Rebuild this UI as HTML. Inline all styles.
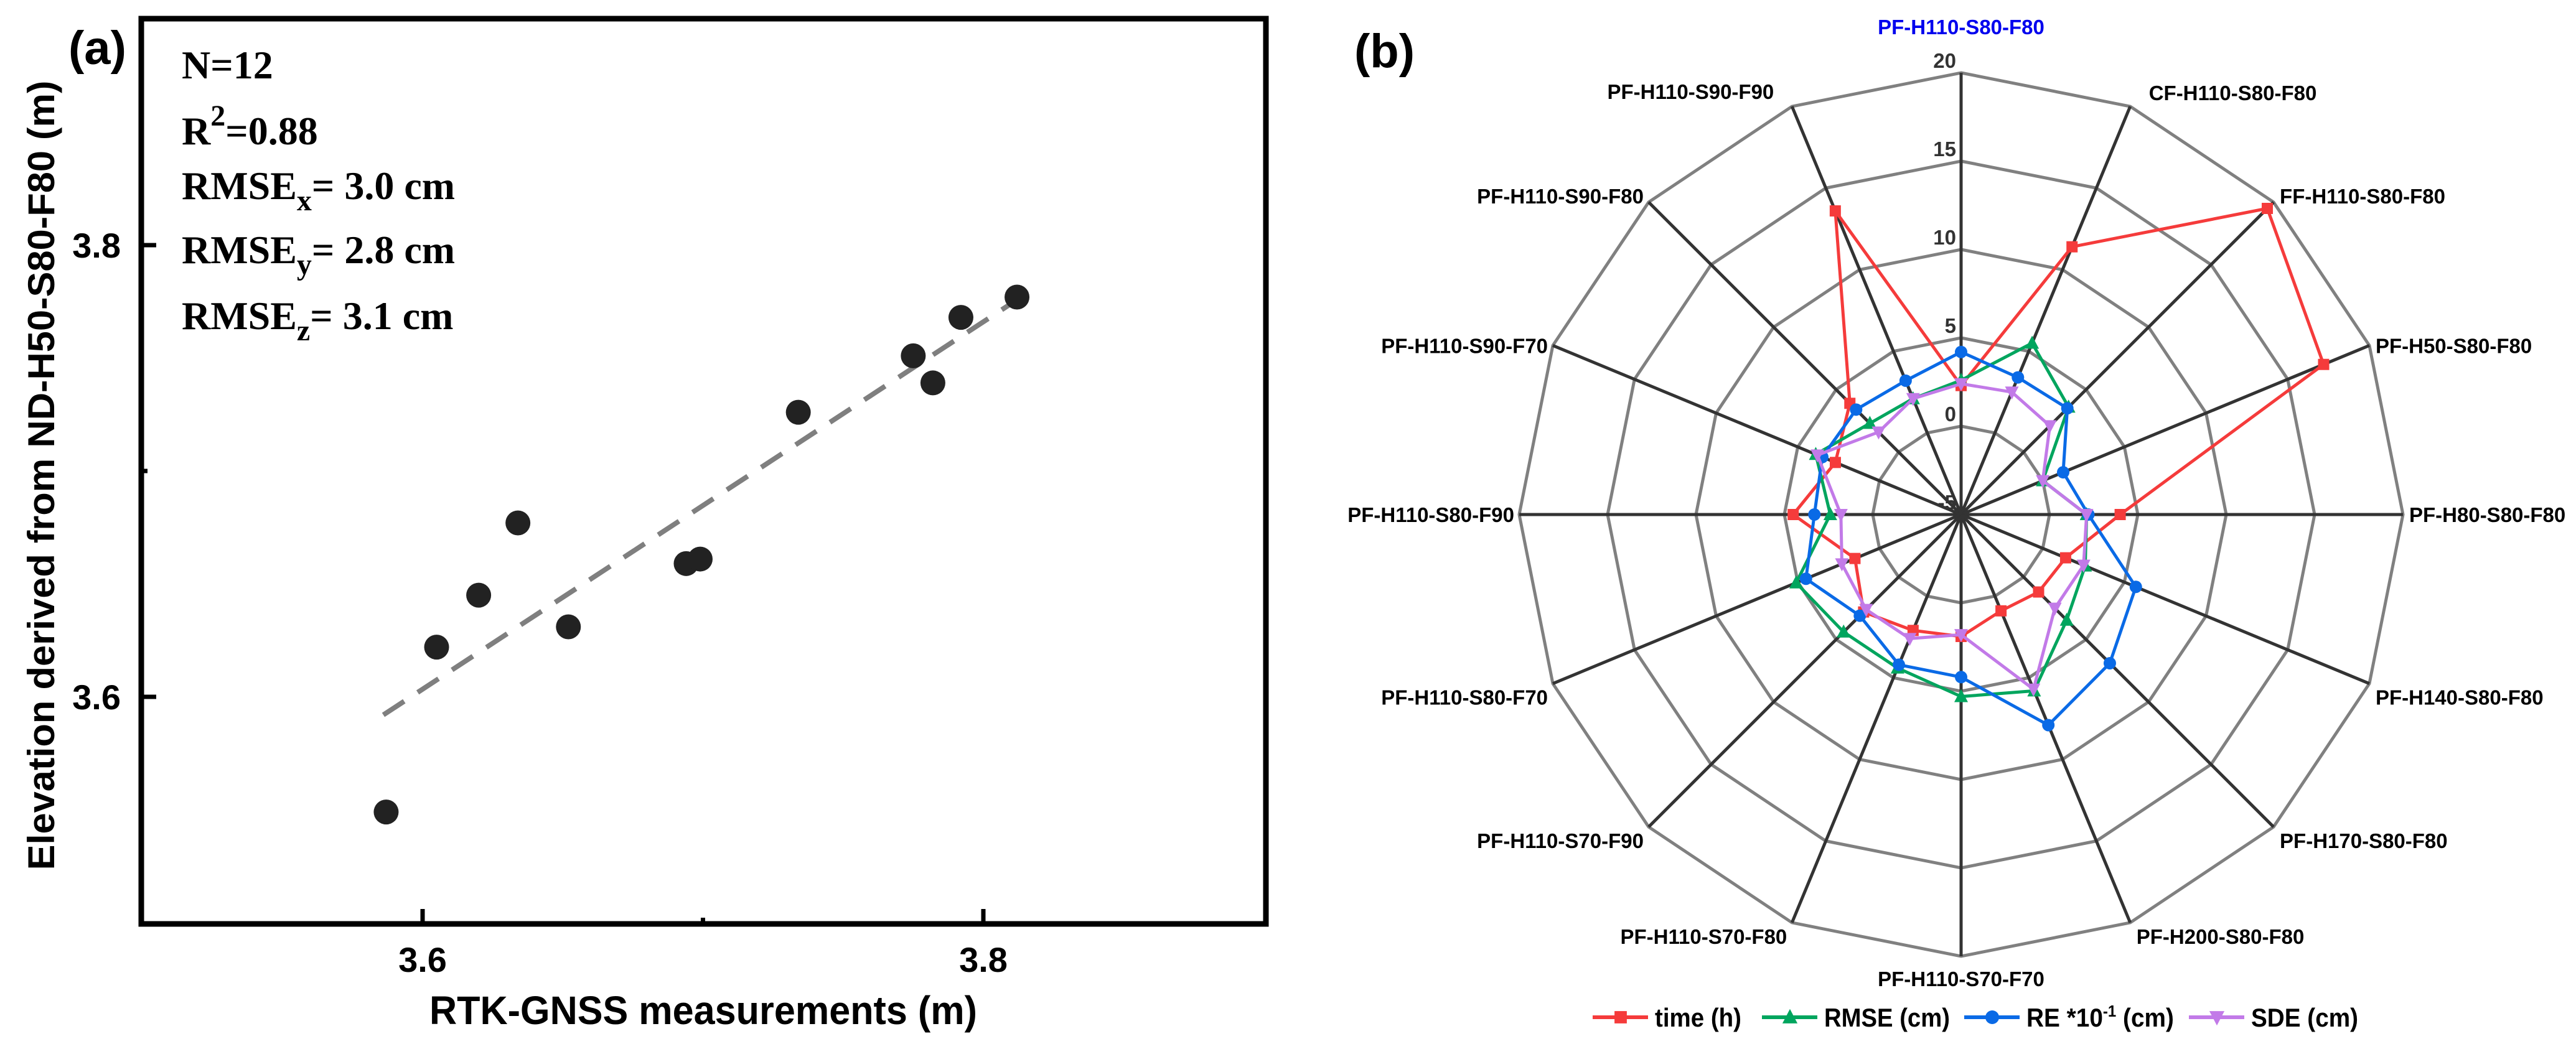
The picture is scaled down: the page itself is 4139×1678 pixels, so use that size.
<!DOCTYPE html>
<html><head><meta charset="utf-8"><style>
html,body{margin:0;padding:0;background:#fff}
svg{display:block}
text{font-family:"Liberation Sans",Arial,sans-serif;font-weight:bold}
.serif{font-family:"Liberation Serif","Times New Roman",serif;font-weight:bold}
</style></head><body>
<svg id="fig" width="4139" height="1678" viewBox="0 0 4139 1678" xmlns="http://www.w3.org/2000/svg">
<g id="panelA"></g>
<g id="panelB"></g>
</svg>
<script>
// ---------- Panel (a) data ----------
const scatterX = [3.587,3.605,3.620,3.634,3.652,3.694,3.699,3.734,3.775,3.782,3.792,3.812];
const scatterY = [3.549,3.622,3.645,3.677,3.631,3.659,3.661,3.726,3.751,3.739,3.768,3.777];
const trendX = [3.586,3.811];
const trendY = [3.592,3.775];
const xTicks = [3.6,3.7,3.8];
const xTickLabels = ["3.6","","3.8"];
const yTicks = [3.6,3.7,3.8];
const yTickLabels = ["3.6","","3.8"];

// ---------- Panel (b) data ----------
const radarCategories = ["PF-H110-S80-F80","CF-H110-S80-F80","FF-H110-S80-F80","PF-H50-S80-F80","PF-H80-S80-F80","PF-H140-S80-F80","PF-H170-S80-F80","PF-H200-S80-F80","PF-H110-S70-F70","PF-H110-S70-F80","PF-H110-S70-F90","PF-H110-S80-F70","PF-H110-S80-F90","PF-H110-S90-F70","PF-H110-S90-F80","PF-H110-S90-F90"];
const timeValues = [2.3,11.4,19.5,17.2,4.0,1.4,1.2,0.9,1.9,2.1,2.8,1.5,4.5,2.7,3.9,13.6];
const rmseValues = [2.6,5.5,3.6,0.0,2.1,2.6,3.45,5.8,5.3,4.4,4.4,5.1,2.4,3.9,2.3,2.1];
const reValues = [4.2,3.4,3.5,1.25,2.2,5.7,6.9,7.9,4.2,4.2,3.1,4.5,3.3,3.5,3.4,3.2];
const sdeValues = [2.4,2.5,2.1,0.0,2.1,2.5,2.5,5.7,1.8,2.6,2.6,2.3,1.8,3.8,1.6,2.1];
const radarTicks = [-5,0,5,10,15,20];
const radarTickLabels = ["-5","0","5","10","15","20"];
const legendLabels = ["time (h)","RMSE (cm)","RE *10","SDE (cm)"];

const NS="http://www.w3.org/2000/svg";
function mk(tag, attrs, parent){const e=document.createElementNS(NS,tag);for(const k in attrs)e.setAttribute(k,attrs[k]);if(parent)parent.appendChild(e);return e;}

// ---------- Panel (a) ----------
const A=document.getElementById('panelA');
const L=227,R=2034,T=30,B=1485;
const xs=v=>679+(v-3.6)*(1580-679)/0.2;
const ys=v=>1120-(v-3.6)*(1120-394)/0.2;

let trend=mk('line',{x1:xs(trendX[0]),y1:ys(trendY[0]),x2:xs(trendX[1]),y2:ys(trendY[1]),stroke:'#7f7f7f','stroke-width':8,'stroke-dasharray':'40 26'},A);



scatterX.forEach((x,i)=>{
  const c=mk('circle',{cx:xs(x),cy:ys(scatterY[i]),r:20,fill:'#222'},A);
  
  
});

let frame=mk('rect',{x:L,y:T,width:R-L,height:B-T,fill:'none',stroke:'#000','stroke-width':9},A);



xTicks.forEach((t,i)=>{
  const len=xTickLabels[i]?24:10;
  const tk=mk('line',{x1:xs(t),y1:B,x2:xs(t),y2:B-len,stroke:'#000','stroke-width':7},A);
  
  
  if(xTickLabels[i]){
    const tx=mk('text',{x:xs(t),y:1562,'font-size':56,'text-anchor':'middle'},A);
    tx.textContent=xTickLabels[i];
    
    
  }
});
yTicks.forEach((t,i)=>{
  const len=yTickLabels[i]?24:10;
  const tk=mk('line',{x1:L,y1:ys(t),x2:L+len,y2:ys(t),stroke:'#000','stroke-width':7},A);
  
  
  if(yTickLabels[i]){
    const tx=mk('text',{x:194,y:ys(t)+20,'font-size':56,'text-anchor':'end'},A);
    tx.textContent=yTickLabels[i];
    
    
  }
});
</script>
<script>
(function(){
const A=document.getElementById('panelA');
A.insertAdjacentHTML('beforeend',`
<text x="110" y="103" font-size="76">(a)</text>
<text x="1130" y="1646" font-size="64" text-anchor="middle" textLength="880" lengthAdjust="spacingAndGlyphs">RTK-GNSS measurements (m)</text>
<text transform="translate(87,764) rotate(-90)" font-size="60" text-anchor="middle" textLength="1269" lengthAdjust="spacingAndGlyphs">Elevation derived from ND-H50-S80-F80 (m)</text>
<text class="serif" x="292" y="126" font-size="64">N=12</text>
<text class="serif" x="292" y="232" font-size="64">R<tspan dy="-30" font-size="48">2</tspan><tspan dy="30">=0.88</tspan></text>
<text class="serif" x="292" y="320" font-size="64">RMSE<tspan dy="18" font-size="48">x</tspan><tspan dy="-18">= 3.0 cm</tspan></text>
<text class="serif" x="292" y="423" font-size="64">RMSE<tspan dy="18" font-size="48">y</tspan><tspan dy="-18">= 2.8 cm</tspan></text>
<text class="serif" x="292" y="529" font-size="64">RMSE<tspan dy="18" font-size="48">z</tspan><tspan dy="-18">= 3.1 cm</tspan></text>
`);
})();
</script>
<script>
(function(){
const Bp=document.getElementById('panelB');
const CX=3151,CY=827,RMAX=710,VMIN=-5,VMAX=20;
const n=radarCategories.length;
const rs=v=>(v-VMIN)/(VMAX-VMIN)*RMAX;
const ang=i=>i*2*Math.PI/n;
const pt=(i,v)=>[CX+rs(v)*Math.sin(ang(i)),CY-rs(v)*Math.cos(ang(i))];

radarTicks.slice(1).forEach(t=>{
  const pts=radarCategories.map((c,i)=>pt(i,t).join(',')).join(' ');
  const p=mk('polygon',{points:pts,fill:'none',stroke:'#808080','stroke-width':5},Bp);
  
  
});
radarCategories.forEach((c,i)=>{
  const [x,y]=pt(i,VMAX);
  const l=mk('line',{x1:CX,y1:CY,x2:x,y2:y,stroke:'#333','stroke-width':5},Bp);
  
  
});
radarTicks.forEach((t,i)=>{
  const tx=mk('text',{x:3143,y:CY-rs(t)-8,'font-size':33,'text-anchor':'end',fill:'#333'},Bp);
  tx.textContent=radarTickLabels[i];
  
  
});
radarCategories.forEach((c,i)=>{
  const a=ang(i);const s=Math.sin(a),co=Math.cos(a);
  const [vx,vy]=pt(i,VMAX);
  let x=vx,y=vy,anchor='middle';
  if(Math.abs(s)<0.01){ y = co>0 ? vy-62 : vy+48; }
  else if(s>0){ anchor='start'; x=vx+10; y=vy+12+ (co>0.5? -10 : (co<-0.3? 22:0)); if(i===1){x=vx+30;y=vy-10;} }
  else { anchor='end'; x=vx-8; y=vy+12+(co<-0.3?22:(co>0.5?-10:0)); if(i===15){x=vx-29;y=vy-12;} }
  const tx=mk('text',{x:x,y:y,'font-size':33,'text-anchor':anchor,fill:i===0?'#0000ee':'#000'},Bp);
  tx.textContent=c;
  
  
});

const series=[
  {vals:timeValues,color:'#f53b3b',marker:'square',name:'time'},
  {vals:rmseValues,color:'#00a55e',marker:'tri-up',name:'rmse'},
  {vals:reValues,color:'#0a6ae6',marker:'circle',name:'re'},
  {vals:sdeValues,color:'#c27ae8',marker:'tri-down',name:'sde'}
];
function marker(kind,x,y,color,parent,size){
  const s=size||1;
  if(kind==='square') return mk('rect',{x:x-9*s,y:y-9*s,width:18*s,height:18*s,fill:color},parent);
  if(kind==='circle') return mk('circle',{cx:x,cy:y,r:10*s,fill:color},parent);
  if(kind==='tri-up') return mk('polygon',{points:`${x},${y-12*s} ${x+11*s},${y+9*s} ${x-11*s},${y+9*s}`,fill:color},parent);
  return mk('polygon',{points:`${x},${y+12*s} ${x+11*s},${y-9*s} ${x-11*s},${y-9*s}`,fill:color},parent);
}
series.forEach(sr=>{
  const pts=sr.vals.map((v,i)=>pt(i,v).join(',')).join(' ');
  const p=mk('polygon',{points:pts,fill:'none',stroke:sr.color,'stroke-width':5,'stroke-linejoin':'round'},Bp);
  
  
  sr.vals.forEach((v,i)=>{
    const [x,y]=pt(i,v);
    const m=marker(sr.marker,x,y,sr.color,Bp);
    
    
  });
});

const legX=[2559,2831,3156,3517];
const legTextW=[139,202,0,172];
series.forEach((sr,k)=>{
  const g=mk('g',{},Bp);
  
  
  mk('line',{x1:legX[k],y1:1635,x2:legX[k]+89,y2:1635,stroke:sr.color,'stroke-width':6},g);
  marker(sr.marker,legX[k]+45,1635,sr.color,g,1.1);
  const tx=mk('text',{x:legX[k]+100,y:1650,'font-size':42},g);
  if(k===2){
    const t1=mk('tspan',{},tx);t1.textContent=legendLabels[k];
    const t2=mk('tspan',{dy:-16,'font-size':26},tx);t2.textContent='-1';
    const t3=mk('tspan',{dy:16},tx);t3.textContent=' (cm)';
    tx.setAttribute('textLength',237);
    tx.setAttribute('lengthAdjust','spacingAndGlyphs');
  } else {
    tx.textContent=legendLabels[k];
    tx.setAttribute('textLength',legTextW[k]);
    tx.setAttribute('lengthAdjust','spacingAndGlyphs');
  }
  
  
});

const lb=mk('text',{x:2176,y:108,'font-size':76},Bp);
lb.textContent='(b)';


})();
</script>
</body></html>
